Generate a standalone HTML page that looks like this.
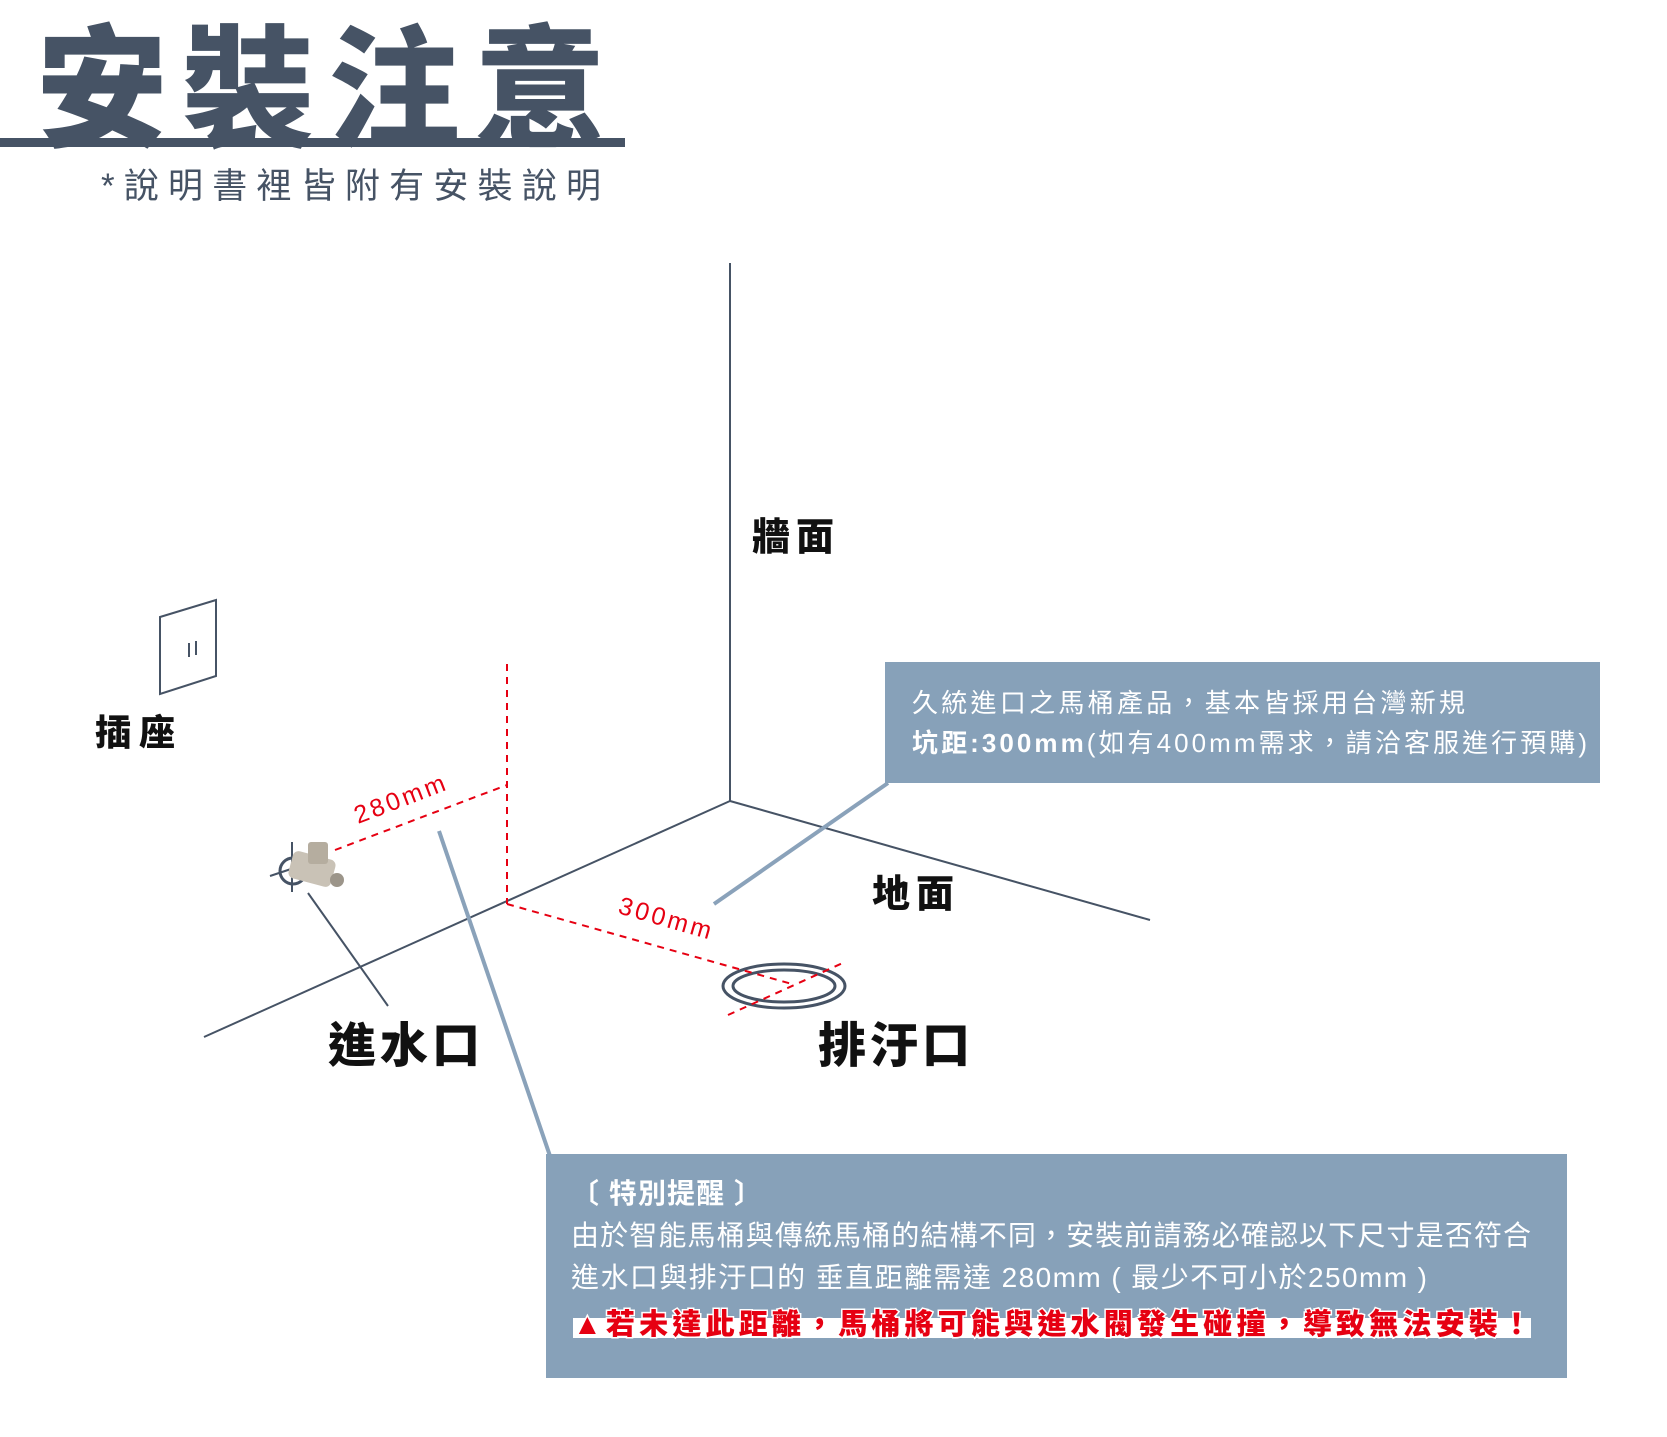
<!DOCTYPE html>
<html><head><meta charset="utf-8"><style>
html,body{margin:0;padding:0;background:#fff;}
body{width:1667px;height:1437px;position:relative;overflow:hidden;font-family:"Liberation Sans","Noto Sans CJK TC",sans-serif;}
</style></head><body>
<svg width="1667" height="1437" viewBox="0 0 1667 1437" xmlns="http://www.w3.org/2000/svg" style="position:absolute;left:0;top:0">
<!-- title -->
<text x="36" y="136" font-family="Noto Sans CJK TC, sans-serif" font-weight="900" font-size="132" fill="#465365" textLength="570" lengthAdjust="spacing">安裝注意</text>
<rect x="0" y="138" width="625" height="9" fill="#465365"/>
<text x="101" y="198" font-family="Liberation Sans, Noto Sans CJK TC, sans-serif" font-size="35" fill="#465365" textLength="500" lengthAdjust="spacing">*說明書裡皆附有安裝說明</text>

<!-- axes -->
<g stroke="#465365" stroke-width="2" fill="none">
<line x1="730" y1="263" x2="730" y2="801"/>
<line x1="730" y1="801" x2="204" y2="1037"/>
<line x1="730" y1="801" x2="1150" y2="920"/>
<line x1="308" y1="893" x2="388" y2="1006"/>
<polygon points="160,617 216,600 216,676 160,694"/>
<line x1="189" y1="643" x2="189" y2="657"/>
<line x1="196" y1="641" x2="196" y2="655"/>
<ellipse cx="784" cy="986" rx="61" ry="22" stroke-width="3"/>
<ellipse cx="784" cy="986" rx="51" ry="16" stroke-width="3"/>
<circle cx="293" cy="871" r="13" stroke-width="3"/>
<line x1="292" y1="842" x2="292" y2="892" stroke-width="2"/>
<line x1="270" y1="876" x2="300" y2="866" stroke-width="2"/>
</g>
<!-- valve -->
<g>
<rect x="290" y="855" width="44" height="28" rx="6" fill="#c9c2b6" transform="rotate(15 312 869)"/>
<rect x="308" y="842" width="20" height="22" rx="3" fill="#b5ad9f"/>
<circle cx="337" cy="880" r="7" fill="#9c958a"/>
</g>

<!-- red dashed -->
<g stroke="#e60012" stroke-width="2" stroke-dasharray="7,6" fill="none">
<line x1="507" y1="664" x2="507" y2="904"/>
<line x1="335" y1="850" x2="507" y2="785"/>
<line x1="507" y1="904" x2="792" y2="984"/>
<line x1="728" y1="1015" x2="845" y2="962"/>
</g>
<text x="0" y="0" font-size="25" fill="#e60012" letter-spacing="3" transform="translate(358 824) rotate(-21)">280mm</text>
<text x="0" y="0" font-size="25" fill="#e60012" letter-spacing="3" transform="translate(617 913) rotate(16)">300mm</text>

<!-- connectors -->
<line x1="888" y1="783" x2="714" y2="904" stroke="#8aa2ba" stroke-width="4"/>
<line x1="439" y1="831" x2="550" y2="1156" stroke="#8aa2ba" stroke-width="4"/>

<!-- labels -->
<g font-family="Noto Sans CJK TC, sans-serif" font-weight="900" fill="#111">
<text x="752" y="550" font-size="38" textLength="82" lengthAdjust="spacing">牆面</text>
<text x="95" y="745" font-size="36" textLength="80" lengthAdjust="spacing">插座</text>
<text x="872" y="907" font-size="38" textLength="82" lengthAdjust="spacing">地面</text>
<text x="328" y="1062" font-size="48" letter-spacing="4">進水口</text>
<text x="818" y="1062" font-size="48" letter-spacing="4">排汙口</text>
</g>

<!-- top box -->
<rect x="885" y="662" width="715" height="121" fill="#87a1b9"/>
<text x="912" y="712" font-size="26" fill="#fff" textLength="553" lengthAdjust="spacing">久統進口之馬桶產品，基本皆採用台灣新規</text>
<text x="912" y="752" font-size="26" fill="#fff" textLength="675" lengthAdjust="spacing"><tspan font-weight="bold">坑距:300mm</tspan>(如有400mm需求，請洽客服進行預購)</text>

<!-- bottom box -->
<rect x="546" y="1154" width="1021" height="224" fill="#87a1b9"/>
<text x="571" y="1203" font-size="28" fill="#fff" font-weight="bold" textLength="191" lengthAdjust="spacing">〔 特別提醒 〕</text>
<text x="571" y="1245" font-size="28" fill="#fff" textLength="960" lengthAdjust="spacing">由於智能馬桶與傳統馬桶的結構不同，安裝前請務必確認以下尺寸是否符合</text>
<text x="571" y="1287" font-size="28" fill="#fff" textLength="856" lengthAdjust="spacing">進水口與排汙口的 垂直距離需達 280mm ( 最少不可小於250mm )</text>
<rect x="573" y="1318" width="958" height="20" fill="#fff"/>
<text x="573" y="1334" font-size="29" font-weight="900" fill="#e60012" stroke="#fff" stroke-width="3" paint-order="stroke" textLength="958" lengthAdjust="spacing">▲若未達此距離，馬桶將可能與進水閥發生碰撞，導致無法安裝！</text>
</svg>
</body></html>
